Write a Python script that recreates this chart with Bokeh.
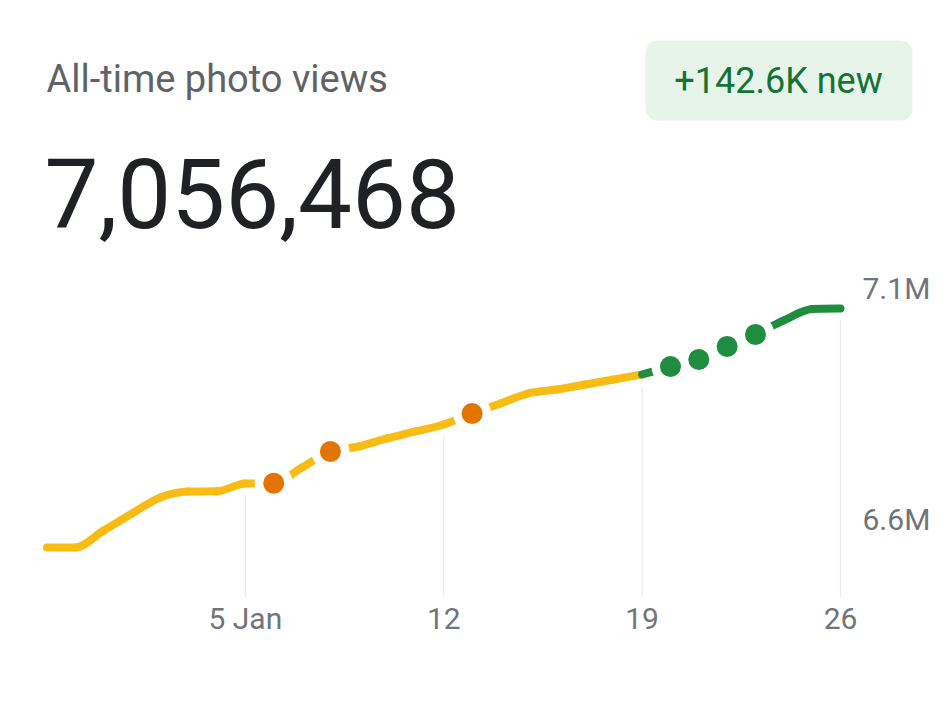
import pandas as pd
from bokeh.plotting import figure
from bokeh.models import Range1d, Label, BoxAnnotation
from bokeh.embed import file_html
from bokeh.resources import INLINE

# ---------------- data ----------------
dates = [
    "2024-12-29", "2024-12-30", "2024-12-31", "2025-01-01", "2025-01-02",
    "2025-01-03", "2025-01-04", "2025-01-05", "2025-01-06", "2025-01-07",
    "2025-01-08", "2025-01-09", "2025-01-10", "2025-01-11", "2025-01-12",
    "2025-01-13", "2025-01-14", "2025-01-15", "2025-01-16", "2025-01-17",
    "2025-01-18", "2025-01-19", "2025-01-20", "2025-01-21", "2025-01-22",
    "2025-01-23", "2025-01-24", "2025-01-25", "2025-01-26",
]
views = [
    6539400, 6539600, 6576200, 6613000, 6647600,
    6660600, 6661000, 6677900, 6678500, 6712600,
    6747200, 6758000, 6775400, 6790500, 6805700,
    6829500, 6851100, 6873000, 6881500, 6892300,
    6903000, 6913900, 6931000, 6946400, 6974500,
    7000500, 7030800, 7055500, 7056468,
]
split_date = "2025-01-19"          # start of the "new" (green) week
orange_marker_dates = ["2025-01-06", "2025-01-08", "2025-01-13"]
green_marker_dates = ["2025-01-20", "2025-01-21", "2025-01-22", "2025-01-23"]
x_tick_dates = ["2025-01-05", "2025-01-12", "2025-01-19", "2025-01-26"]
x_tick_labels = ["5 Jan", "12", "19", "26"]
y_ticks = [6600000, 7100000]
y_tick_labels = ["6.6M", "7.1M"]
title_text = "All-time photo views"
total_text = "7,056,468"
badge_text = "+142.6K new"

# ---------------- helpers ----------------
def to_ms(s):
    return pd.Timestamp(s).value / 1e6

DAY = 86400000.0
xs = [to_ms(d) for d in dates]
lookup = dict(zip(dates, views))
split_i = dates.index(split_date)

W, H = 941, 704
PX_PER_DAY = 28.339
x_start = xs[0] - 46.5 / PX_PER_DAY * DAY
x_end = x_start + W / PX_PER_DAY * DAY
y_start, y_end = 6199568, 7723376
GRID_BOTTOM = 6431000
GRID_GAP = 26000

YELLOW = "#F9BC15"
ORANGE = "#E37400"
GREEN = "#1E8E3E"
GRID = "#E8EAED"
TICK = "#70757A"

p = figure(width=W, height=H, x_range=Range1d(x_start, x_end),
           y_range=Range1d(y_start, y_end), output_backend="svg",
           toolbar_location=None, x_axis_location=None, y_axis_location=None,
           min_border=0, outline_line_color=None)
p.grid.visible = False
p.background_fill_color = "white"
p.border_fill_color = "white"

# vertical guide lines below the curve at the tick dates
gx = [to_ms(d) for d in x_tick_dates]
gtop = [lookup[d] - GRID_GAP for d in x_tick_dates]
p.segment(x0=gx, y0=[GRID_BOTTOM] * len(gx), x1=gx, y1=gtop,
          line_color=GRID, line_width=1.2)


def smooth_segments(x, y):
    """Monotone cubic (Fritsch-Carlson) Bezier pieces through the points."""
    n = len(x)
    h = [x[i + 1] - x[i] for i in range(n - 1)]
    d = [(y[i + 1] - y[i]) / h[i] for i in range(n - 1)]
    m = [0.0] * n
    m[0], m[-1] = d[0], d[-1]
    for i in range(1, n - 1):
        m[i] = 0.0 if d[i - 1] * d[i] <= 0 else (d[i - 1] + d[i]) / 2
    for i in range(n - 1):
        if d[i] == 0:
            m[i] = m[i + 1] = 0.0
        else:
            a, b = m[i] / d[i], m[i + 1] / d[i]
            s = a * a + b * b
            if s > 9:
                t = 3 / s ** 0.5
                m[i], m[i + 1] = t * a * d[i], t * b * d[i]
    out = dict(x0=[], y0=[], x1=[], y1=[], cx0=[], cy0=[], cx1=[], cy1=[])
    for i in range(n - 1):
        out["x0"].append(x[i]); out["y0"].append(y[i])
        out["x1"].append(x[i + 1]); out["y1"].append(y[i + 1])
        out["cx0"].append(x[i] + h[i] / 3); out["cy0"].append(y[i] + m[i] * h[i] / 3)
        out["cx1"].append(x[i + 1] - h[i] / 3); out["cy1"].append(y[i + 1] - m[i + 1] * h[i] / 3)
    return out


# curve: yellow history, green latest week
p.bezier(**smooth_segments(xs[:split_i + 1], views[:split_i + 1]),
         line_color=YELLOW, line_width=8, line_cap="round")
p.bezier(**smooth_segments(xs[split_i:], views[split_i:]),
         line_color=GREEN, line_width=8, line_cap="round")

# markers with white halos breaking the line
mo_x = [to_ms(d) for d in orange_marker_dates]
mo_y = [lookup[d] for d in orange_marker_dates]
mg_x = [to_ms(d) for d in green_marker_dates]
mg_y = [lookup[d] for d in green_marker_dates]
p.scatter(mo_x + mg_x, mo_y + mg_y, size=38, fill_color="white", line_color=None)
p.scatter(mo_x, mo_y, size=21, fill_color=ORANGE, line_color=None)
p.scatter(mg_x, mg_y, size=21, fill_color=GREEN, line_color=None)

# x tick labels
for d, t in zip(x_tick_dates, x_tick_labels):
    p.add_layout(Label(x=to_ms(d), y=86, y_units="screen", text=t,
                       text_align="center", text_baseline="middle",
                       text_font="Roboto", text_font_size="30px",
                       text_color=TICK))
# y tick labels (right)
for v, t in zip(y_ticks, y_tick_labels):
    p.add_layout(Label(x=862, x_units="screen", y=v, text=t,
                       text_align="left", text_baseline="middle",
                       text_font="Roboto", text_font_size="30px",
                       text_color=TICK))

# header texts
p.add_layout(Label(x=46, y=626, x_units="screen", y_units="screen",
                   text=title_text, text_font="Roboto", text_font_size="38px",
                   text_color="#5F6368", text_baseline="alphabetic"))
p.add_layout(Label(x=44, y=511, x_units="screen", y_units="screen",
                   text=total_text, text_font="Roboto", text_font_size="96px",
                   text_color="#202124", text_baseline="alphabetic"))

# badge
p.add_layout(BoxAnnotation(left=645, right=912, bottom=584, top=664,
                           left_units="screen", right_units="screen",
                           bottom_units="screen", top_units="screen",
                           fill_color="#E6F4EA", fill_alpha=1.0,
                           line_color=None, border_radius=12))
p.add_layout(Label(x=778, y=624, x_units="screen", y_units="screen",
                   text=badge_text, text_font="Roboto", text_font_size="36px",
                   text_color="#137333", text_align="center",
                   text_baseline="middle"))

open("out.html", "w").write(file_html(p, INLINE))
